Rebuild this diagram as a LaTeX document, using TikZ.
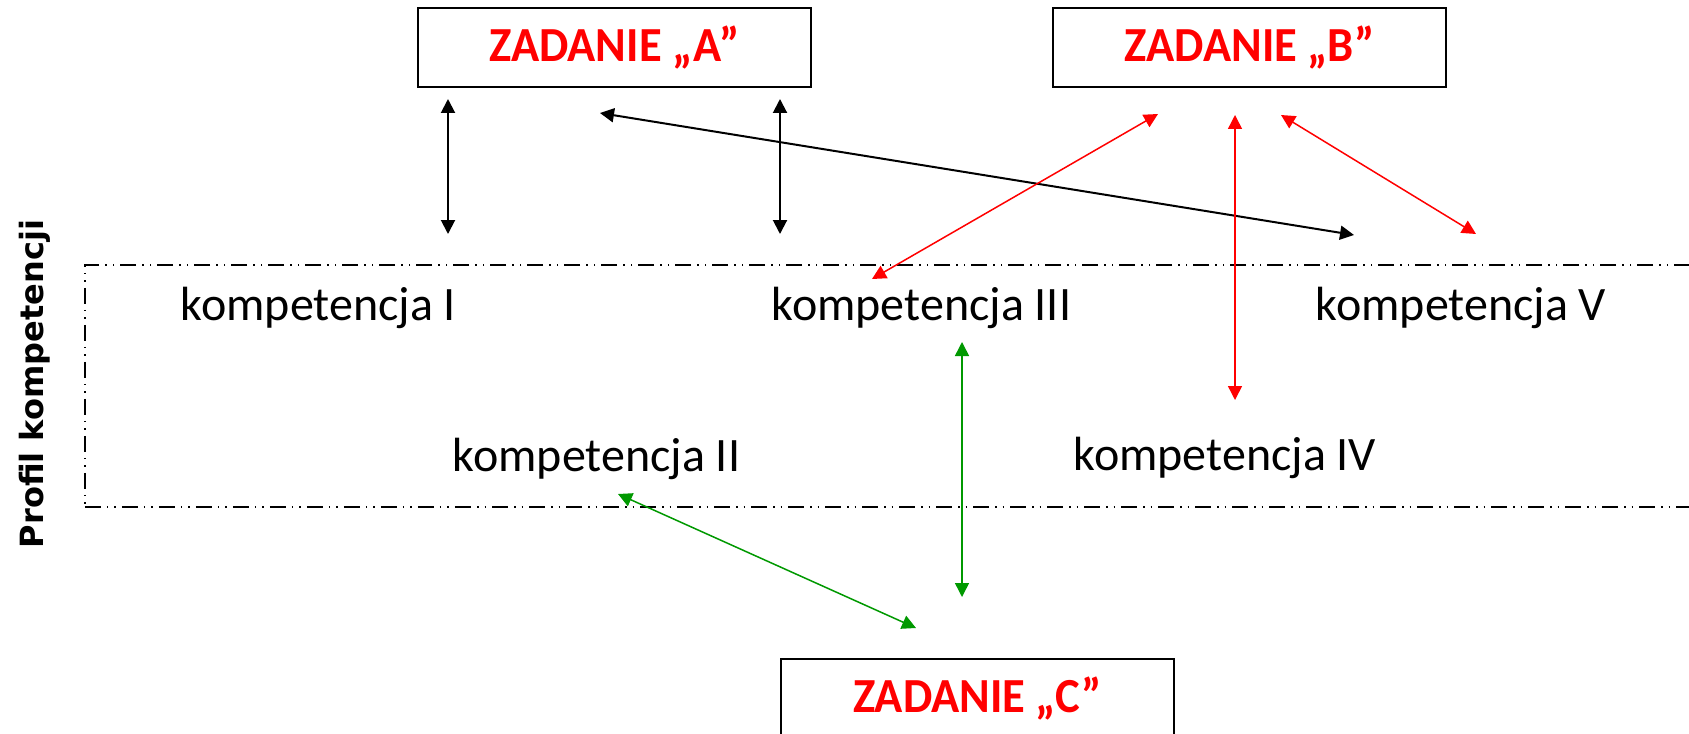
\documentclass[tikz,border=0pt]{standalone}
\usepackage{fontspec}
\setmainfont{Carlito}
\newfontfamily\profilfont{DejaVu Sans}
\usetikzlibrary{arrows.meta}
\definecolor{zred}{RGB}{255,0,0}
\definecolor{zgreen}{RGB}{0,153,0}
\newcommand{\tasktext}[1]{\scalebox{0.95}[1]{#1}}
\begin{document}
\begin{tikzpicture}[x=1bp,y=-1bp,
  task/.style={draw, line width=2bp, minimum width=393bp, minimum height=79bp, inner sep=0pt,
    font=\fontsize{49bp}{54bp}\selectfont\bfseries, text=zred},
  komp/.style={font=\fontsize{48bp}{54bp}\selectfont, inner sep=0pt, anchor=base},
  profilbox/.style={draw, line width=1.5bp, minimum width=1625bp, minimum height=242bp, inner sep=0pt,
    dash pattern=on 16bp off 6bp on 1.5bp off 6bp on 1.5bp off 6bp},
  both/.style={{Triangle[length=14bp,width=14bp]}-{Triangle[length=14bp,width=14bp]}},
  blk/.style={both, line width=2bp, black},
  redarr/.style={both, line width=1.5bp, zred},
  grnarr/.style={both, line width=1.5bp, zgreen},
]
\useasboundingbox (0,0) rectangle (1689,734);
\fill[white] (0,0) rectangle (1689,734);

% profile area
\node[profilbox] (profil) at (897.5,386) {};
\node[rotate=90, anchor=base, inner sep=0pt,
  font=\profilfont\fontsize{32bp}{38bp}\selectfont\bfseries] (ptitle) at (43,384) {Profil kompetencji};

% tasks
\node[task] (A) at (614.5,47.5) {\tasktext{ZADANIE „A”}};
\node[task] (B) at (1249.5,47.5) {\tasktext{ZADANIE „B”}};
\node[task] (C) at (977.5,698.5) {\tasktext{ZADANIE „C”}};

% competencies
\node[komp] (k1) at (318.5,320) {kompetencja I};
\node[komp] (k3) at (921.5,320) {kompetencja III};
\node[komp] (k5) at (1461,320) {kompetencja V};
\node[komp] (k2) at (596.5,471) {kompetencja II};
\node[komp] (k4) at (1225,470) {kompetencja IV};

% arrow end points
\coordinate (a1t) at (448,99);   \coordinate (a1b) at (448,234);
\coordinate (a2t) at (780,99);   \coordinate (a2b) at (780,234);
\coordinate (a3t) at (600,113);  \coordinate (a3b) at (1354,235);
\coordinate (b1t) at (1158,114); \coordinate (b1b) at (872,279);
\coordinate (b2t) at (1235,115); \coordinate (b2b) at (1235,400);
\coordinate (b3t) at (1281,115); \coordinate (b3b) at (1476,234);
\coordinate (c1t) at (962,342);  \coordinate (c1b) at (962,597);
\coordinate (c2t) at (618,494);  \coordinate (c2b) at (916,628);

\draw[blk] (a1t) -- (a1b);
\draw[blk] (a2t) -- (a2b);
\draw[blk] (a3t) -- (a3b);
\draw[redarr] (b1t) -- (b1b);
\draw[redarr] (b2t) -- (b2b);
\draw[redarr] (b3t) -- (b3b);
\draw[grnarr] (c1t) -- (c1b);
\draw[grnarr] (c2t) -- (c2b);
\end{tikzpicture}
\end{document}
